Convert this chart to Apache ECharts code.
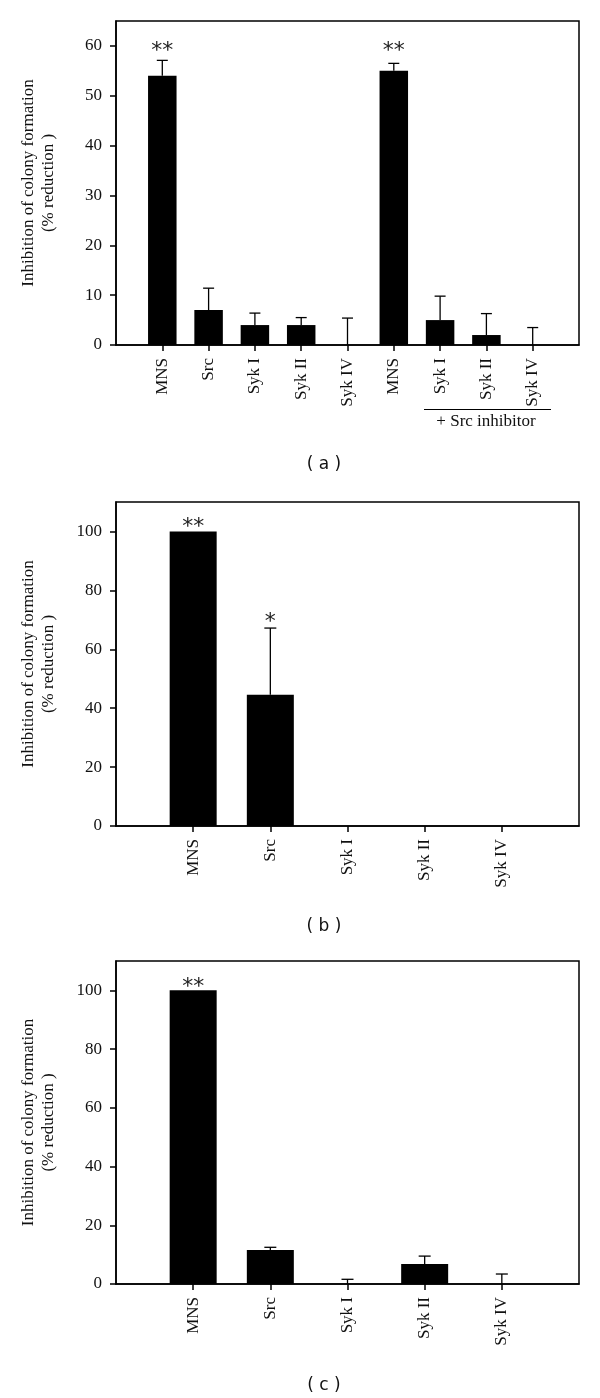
<!DOCTYPE html>
<html>
<head>
<meta charset="utf-8">
<style>
html, body { margin: 0; padding: 0; background: #fff; }
#main { width: 600px; height: 1398px; }
</style>
</head>
<body>
<div id="main"></div>
<script src="https://cdn.jsdelivr.net/npm/echarts@6/dist/echarts.min.js"></script>
<script>
// panel (a)
var catsA = ['MNS', 'Src', 'Syk I', 'Syk II', 'Syk IV', 'MNS', 'Syk I', 'Syk II', 'Syk IV'];
var meanA = [54, 7, 4, 4, 0, 55, 5, 2, 0];
var errA = [3.1, 4.4, 2.4, 1.5, 5.4, 1.5, 4.8, 4.3, 3.5];
var starA = ['**', '', '', '', '', '**', '', '', ''];
var starYA = [60, 0, 0, 0, 0, 60, 0, 0, 0];
var yTicksA = [0, 10, 20, 30, 40, 50, 60];

// panel (b)
var catsB = ['MNS', 'Src', 'Syk I', 'Syk II', 'Syk IV'];
var meanB = [100, 44.6, 0, 0, 0];
var errB = [null, 22.6, null, null, null];
var starB = ['**', '*', '', '', ''];
var starYB = [103, 71, 0, 0, 0];
var yTicksB = [0, 20, 40, 60, 80, 100];

// panel (c)
var catsC = ['MNS', 'Src', 'Syk I', 'Syk II', 'Syk IV'];
var meanC = [100, 11.6, 0, 6.8, 0];
var errC = [null, 0.9, 1.6, 2.7, 3.4];
var starC = ['**', '', '', '', ''];
var starYC = [102.8, 0, 0, 0, 0];
var yTicksC = [0, 20, 40, 60, 80, 100];

var yTitle = 'Inhibition of colony formation\n(% reduction )';
var serif = '"Liberation Serif", "DejaVu Serif", serif';

var myChart = echarts.init(document.getElementById('main'));

var grids = [], xAxes = [], yAxes = [], series = [];

function addPanel(k, cats, mean, err, stars, starY, yMax, yTicks, top, height, barW, capW) {
	var n = cats.length + 2;
	grids.push({
		left: 116, right: 21, top: top, height: height,
		show: true, borderColor: '#000', borderWidth: 1.5
	});
	xAxes.push({
		gridIndex: k,
		type: 'category',
		boundaryGap: false,
		data: [''].concat(cats).concat(['']),
		axisLine: { lineStyle: { color: '#000', width: 1.5 } },
		axisTick: {
			length: 6,
			lineStyle: { color: '#000', width: 1.5 },
			interval: function (i) { return i > 0 && i < n - 1; }
		},
		axisLabel: {
			interval: 0, rotate: 90, margin: 13,
			color: '#111', fontFamily: serif, fontSize: 17
		},
		splitLine: { show: false }
	});
	yAxes.push({
		gridIndex: k,
		type: 'value',
		min: 0, max: yMax,
		name: yTitle,
		nameLocation: 'middle',
		nameGap: 57,
		nameTextStyle: { color: '#111', fontFamily: serif, fontSize: 17, lineHeight: 20 },
		axisLine: { show: true, lineStyle: { color: '#000', width: 1.5 } },
		axisTick: { show: true, length: 6, lineStyle: { color: '#000', width: 1.5 }, customValues: yTicks },
		axisLabel: { margin: 14, color: '#111', fontFamily: serif, fontSize: 17, customValues: yTicks },
		splitLine: { show: false }
	});
	var barData = ['-'].concat(mean).concat(['-']);
	series.push({
		type: 'bar', xAxisIndex: k, yAxisIndex: k,
		data: barData, barWidth: barW,
		itemStyle: { color: '#000' },
		z: 2
	});
	var errData = [];
	var starData = [];
	for (var i = 0; i < cats.length; i++) {
		if (err[i] !== null) errData.push([i + 1, mean[i], mean[i] + err[i]]);
		if (stars[i]) starData.push([i + 1, starY[i], stars[i]]);
	}
	series.push({
		type: 'custom', xAxisIndex: k, yAxisIndex: k,
		data: errData,
		encode: { x: 0, y: [1, 2] },
		z: 3,
		renderItem: function (params, api) {
			var p0 = api.coord([api.value(0), api.value(1)]);
			var p1 = api.coord([api.value(0), api.value(2)]);
			var st = { stroke: '#000', lineWidth: 1.3 };
			return {
				type: 'group',
				children: [
					{ type: 'line', shape: { x1: p0[0], y1: p0[1], x2: p1[0], y2: p1[1] }, style: st },
					{ type: 'line', shape: { x1: p1[0] - capW / 2, y1: p1[1], x2: p1[0] + capW / 2, y2: p1[1] }, style: st }
				]
			};
		}
	});
	series.push({
		type: 'custom', xAxisIndex: k, yAxisIndex: k,
		data: starData,
		encode: { x: 0, y: 1 },
		z: 4,
		renderItem: function (params, api) {
			var p = api.coord([api.value(0), api.value(1)]);
			return {
				type: 'text',
				x: p[0], y: p[1] + 5,
				style: {
					text: starData[params.dataIndex][2],
					fill: '#222',
					font: '22px "DejaVu Sans", sans-serif',
					textAlign: 'center',
					textVerticalAlign: 'middle'
				}
			};
		}
	});
}

addPanel(0, catsA, meanA, errA, starA, starYA, 65, yTicksA, 21, 324, 28.5, 11);
addPanel(1, catsB, meanB, errB, starB, starYB, 110, yTicksB, 502, 324, 47, 12);
addPanel(2, catsC, meanC, errC, starC, starYC, 110, yTicksC, 961, 323, 47, 12);

var panelFont = '17px "DejaVu Sans", sans-serif';

var option = {
	backgroundColor: '#fff',
	animation: false,
	grid: grids,
	xAxis: xAxes,
	yAxis: yAxes,
	series: series,
	graphic: [
		{ type: 'line', shape: { x1: 424, y1: 409.5, x2: 551, y2: 409.5 }, style: { stroke: '#000', lineWidth: 1.2 } },
		{ type: 'text', x: 486, y: 422, style: { text: '+ Src inhibitor', font: '17px ' + serif, fill: '#111', textAlign: 'center', textVerticalAlign: 'middle' } },
		{ type: 'text', x: 324, y: 465, style: { text: '( a )', font: panelFont, fill: '#111', textAlign: 'center', textVerticalAlign: 'middle' } },
		{ type: 'text', x: 324, y: 927, style: { text: '( b )', font: panelFont, fill: '#111', textAlign: 'center', textVerticalAlign: 'middle' } },
		{ type: 'text', x: 324, y: 1386, style: { text: '( c )', font: panelFont, fill: '#111', textAlign: 'center', textVerticalAlign: 'middle' } }
	]
};
myChart.setOption(option);
</script>
</body>
</html>
